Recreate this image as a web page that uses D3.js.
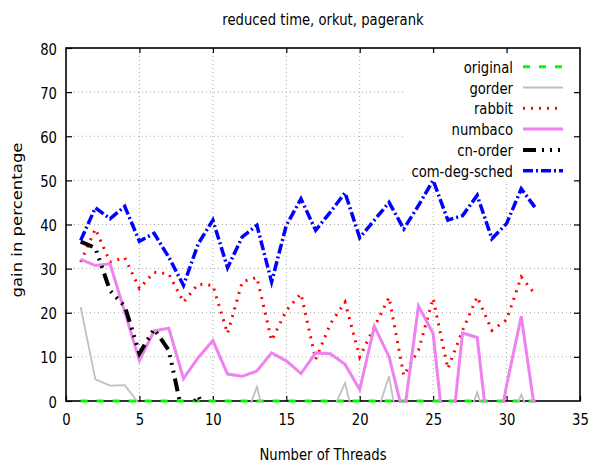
<!DOCTYPE html>
<html><head><meta charset="utf-8">
<script src="https://cdn.jsdelivr.net/npm/d3@7"></script>
<style>
body{margin:0;background:#fff}
svg text{font-family:"DejaVu Sans",sans-serif;font-size:16.5px;fill:#000}
</style></head><body>
<svg id="c" width="592" height="463"></svg>
<script>
const threads=[1,2,3,4,5,6,7,8,9,10,11,12,13,14,15,16,17,18,19,20,21,22,23,24,25,26,27,28,29,30,31,32];
const original=[0,0,0,0,0,0,0,0,0,0,0,0,0,0,0,0,0,0,0,0,0,0,0,0,0,0,0,0,0,0,0,0];
const gorder=[21.3,4.9,3.5,3.6,-0.7,-4,-6,-3,-5,-4,-6,-5.6,3.2,-9.6,-5,-7,-4,-3.4,4.1,-9.6,-4.6,5.6,-13,-8,-6,-9,-7.8,2,-9,-6.3,1.4,-6.3];
const rabbit=[31.5,39,31.5,32.5,25.5,29.2,28.8,22.4,26.5,26.2,15.3,27,28,13.7,20.5,24.3,9.4,17.5,22.4,10,16.8,23.5,5.8,11.5,23.3,7.3,16,23.6,16,18.4,28.1,24];
const numbaco=[32.1,30.7,31.1,20.2,9.2,15.9,16.5,5.1,9.8,13.7,6.1,5.6,6.8,10.9,9.1,6.2,10.9,10.7,8.3,2.6,16.9,10,-3.5,21.5,15.3,-16,15.4,14.4,-15,3.5,19.2,-4];
const cnorder=[36.1,34.7,25,21.5,10.8,16.3,11.5,-4,1.2,-6,-8,-7,-9,-6,-8,-7,-9,-8,-6,-7,-9,-8,-7,-6,-8,-9,-7,-8,-6,-7,-8,-9];
const comdegsched=[36.4,43.8,41.3,44.1,36.2,38,32.6,26.2,35.6,41,30.2,37.2,39.8,27,39.8,45.8,38.7,42.8,47.2,37,41,45,39,44.3,50,41,42,46.6,36.8,40.2,48.1,43.6];
const xTicks=[0,5,10,15,20,25,30,35];
const yTicks=[0,10,20,30,40,50,60,70,80];
const seriesNames=["original","gorder","rabbit","numbaco","cn-order","com-deg-sched"];
const seriesData=[original,gorder,rabbit,numbaco,cnorder,comdegsched];

const styles=[
 {color:"#00ff00",w:3,dash:"7,9"},
 {color:"#c0c0c0",w:1.8,dash:null},
 {color:"#ff0000",w:3,dash:"2,6"},
 {color:"#ee82ee",w:3,dash:null},
 {color:"#000000",w:4,dash:"13,6,2,6,2,6,2,6"},
 {color:"#0000ff",w:3.5,dash:"10,3,2,3"}
];
const SX=0.8;
const X0=66,X1=580,Y0=401,Y1=48;
const svg=d3.select("#c");
const x=d3.scaleLinear().domain([0,35]).range([X0,X1]);
const y=d3.scaleLinear().domain([0,80]).range([Y0,Y1]);

function stext(x0,y0,str,anchor,rot){
  const t=svg.append("text").attr("transform",`translate(${x0},${y0}) scale(${SX},1)`+(rot?` rotate(${rot})`:""))
   .attr("text-anchor",anchor).text(str);
  return t;
}
// grid
const grid=svg.append("g").attr("stroke","#a8a8a8").attr("stroke-width",1).attr("stroke-dasharray","1,3");
grid.selectAll(".gy").data(yTicks.filter(d=>d>0&&d<80)).join("line")
 .attr("x1",X0).attr("x2",X1).attr("y1",d=>y(d)).attr("y2",d=>y(d));
grid.selectAll(".gx").data(xTicks.filter(d=>d>0&&d<35)).join("line")
 .attr("y1",Y0).attr("y2",Y1).attr("x1",d=>x(d)).attr("x2",d=>x(d));
// key background
svg.append("rect").attr("x",404).attr("y",56).attr("width",172).attr("height",125).attr("fill","#fff");

// axes
const gl=svg.append("g").attr("transform",`translate(${X0},0)`).call(d3.axisLeft(y).tickValues(yTicks).tickSize(-6).tickSizeOuter(0).tickFormat(d3.format("d")));
gl.selectAll("text").attr("x",null).attr("dy",null).attr("transform",`translate(-9,6) scale(${SX},1)`).attr("text-anchor","end");
const gr=svg.append("g").attr("transform",`translate(${X1},0)`).call(d3.axisRight(y).tickValues(yTicks.slice(1,-1)).tickSize(-6).tickSizeOuter(0).tickFormat(""));
const gb=svg.append("g").attr("transform",`translate(0,${Y0})`).call(d3.axisBottom(x).tickValues(xTicks).tickSize(-5).tickSizeOuter(0).tickFormat(d3.format("d")));
gb.selectAll("text").attr("y",null).attr("dy",null).attr("transform",`translate(0,24) scale(${SX},1)`).attr("text-anchor","middle");
const gt=svg.append("g").attr("transform",`translate(0,${Y1})`).call(d3.axisTop(x).tickValues(xTicks.slice(1,-1)).tickSize(-5).tickSizeOuter(0).tickFormat(""));
[gl,gr,gb,gt].forEach(g=>{g.select(".domain").remove();g.selectAll("line").attr("stroke","#000").attr("stroke-width",1.2);g.attr("font-size",null).attr("font-family",null);});
svg.append("rect").attr("x",X0).attr("y",Y1).attr("width",X1-X0).attr("height",Y0-Y1)
 .attr("fill","none").attr("stroke","#000").attr("stroke-width",1.6);

// clip
svg.append("clipPath").attr("id","clip").append("rect").attr("x",X0-2).attr("y",Y1-2).attr("width",X1-X0+4).attr("height",Y0-Y1+4);
const line=d3.line().x((d,i)=>x(threads[i])).y(d=>y(d));
const lines=svg.append("g").attr("clip-path","url(#clip)");
seriesData.forEach((s,i)=>{
  lines.append("path").attr("d",line(s)).attr("fill","none").attr("stroke",styles[i].color)
   .attr("stroke-width",styles[i].w).attr("stroke-dasharray",styles[i].dash).attr("stroke-linejoin","miter");
});

// legend
seriesNames.forEach((n,i)=>{
  const yc=66.7+20.8*i;
  stext(513,yc+6,n,"end");
  svg.append("line").attr("x1",523).attr("x2",563).attr("y1",yc).attr("y2",yc)
   .attr("stroke",styles[i].color).attr("stroke-width",styles[i].w).attr("stroke-dasharray",styles[i].dash);
});

// titles
stext(323,25,"reduced time, orkut, pagerank","middle");
stext(323,460,"Number of Threads","middle");
stext(22,220,"gain in percentage","middle",-90);
</script>
</body></html>
